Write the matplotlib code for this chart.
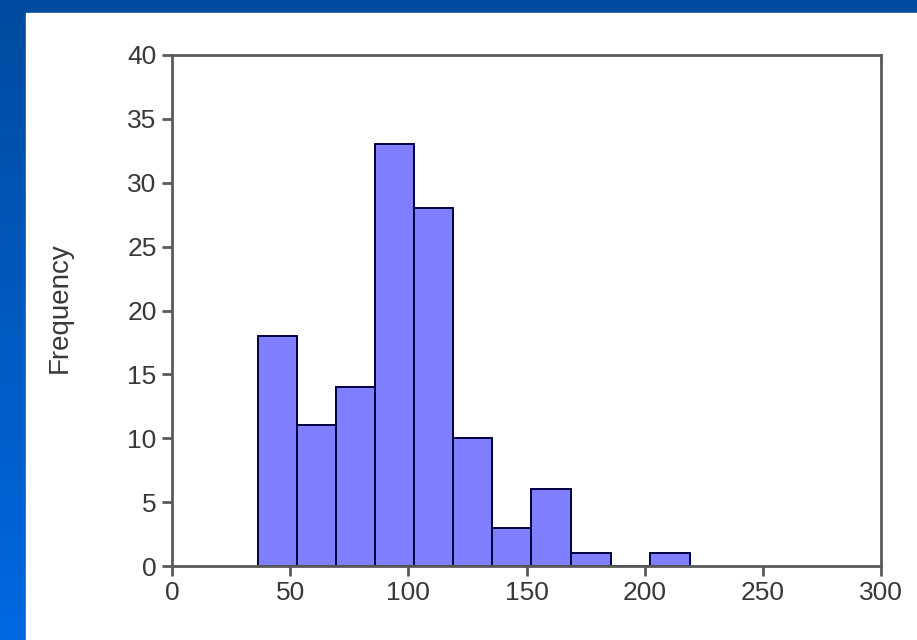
import numpy as np
import matplotlib
matplotlib.use("Agg")
import matplotlib.pyplot as plt
from matplotlib.patches import Rectangle

plt.rcParams['font.family'] = ['Liberation Sans', 'DejaVu Sans']

# histogram
bin_edges = [36.4, 53.0, 69.5, 86.0, 102.5, 119.1, 135.6, 152.1, 169.0, 185.6, 202.4, 219.0]
counts = [18, 11, 14, 33, 28, 10, 3, 6, 1, 0, 1]
x_ticks = [0, 50, 100, 150, 200, 250, 300]
y_ticks = [0, 5, 10, 15, 20, 25, 30, 35, 40]

fig = plt.figure(figsize=(9.17, 6.4), dpi=100)

# slide background: blue gradient with a white panel
bg = fig.add_axes([0, 0, 1, 1], zorder=-10)
grad = np.linspace(0, 1, 256).reshape(-1, 1)
cmap = matplotlib.colors.LinearSegmentedColormap.from_list("slide", ["#004b9f", "#0068e0"])
bg.imshow(grad, aspect='auto', cmap=cmap, extent=[0, 1, 0, 1], origin='upper')
bg.add_patch(Rectangle((26/917, 0), 1, 1 - 13/640, color='white', zorder=2))
bg.set_xlim(0, 1)
bg.set_ylim(0, 1)
bg.axis('off')

ax = fig.add_axes([172/917, 1 - 566/640, (881 - 172)/917, (566 - 55)/640])
ax.set_facecolor('white')
widths = np.diff(bin_edges)
ax.bar(bin_edges[:-1], counts, width=widths, align='edge',
       color='#7f7fff', edgecolor='#000040', linewidth=1.4)

ax.set_xlim(0, 300)
ax.set_ylim(0, 40)
ax.set_xticks(x_ticks)
ax.set_yticks(y_ticks)
for s in ax.spines.values():
    s.set_color('#5a5a5a')
    s.set_linewidth(2)
ax.tick_params(direction='out', length=7, width=2, color='#5a5a5a',
               labelsize=19, labelcolor='#383838', pad=4)
ax.set_ylabel('Frequency', fontsize=20, color='#383838')
ax.yaxis.set_label_coords(-0.140, 0.505)

fig.savefig("out.png", dpi=100)
